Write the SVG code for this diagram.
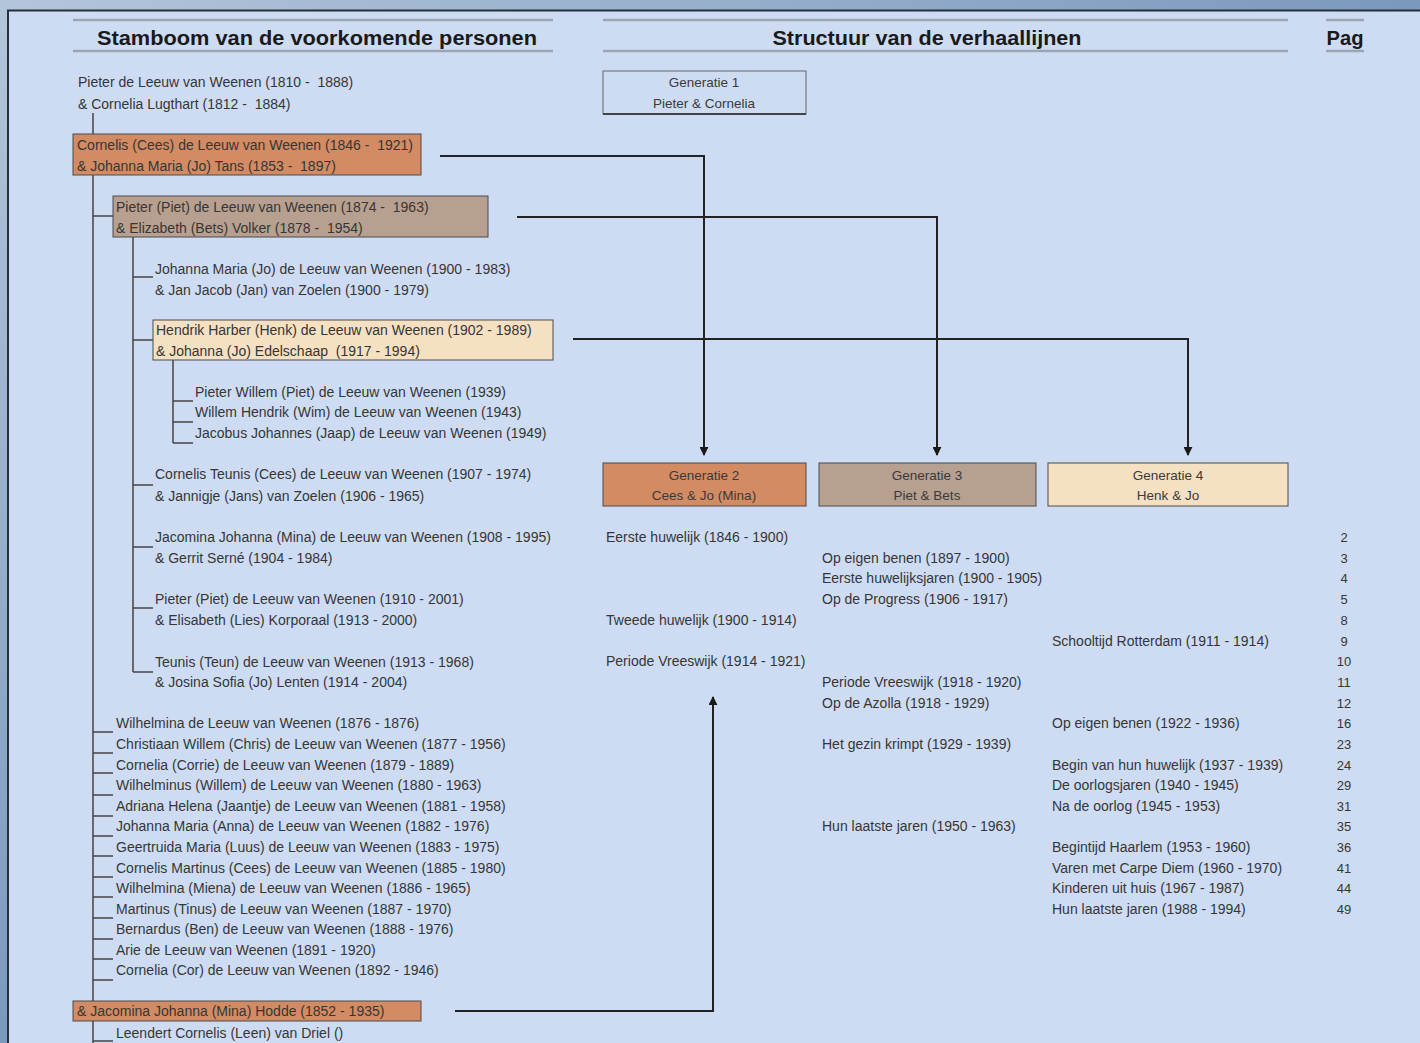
<svg xmlns="http://www.w3.org/2000/svg" width="1420" height="1043" viewBox="0 0 1420 1043">
<defs>
<linearGradient id="water" x1="0" y1="0" x2="1" y2="1">
<stop offset="0" stop-color="#b3c6da"/>
<stop offset="0.5" stop-color="#7b99bd"/>
<stop offset="1" stop-color="#a9bdd4"/>
</linearGradient>
<marker id="arr" viewBox="0 0 10 10" refX="9" refY="5" markerWidth="4.5" markerHeight="4.5" orient="auto" markerUnits="strokeWidth">
<path d="M0,0 L10,5 L0,10 z" fill="#1a1a1a"/>
</marker>
<style>
.t{font-family:"Liberation Sans",Arial,sans-serif;font-size:14px;fill:#363636;white-space:pre}
.s{font-family:"Liberation Sans",Arial,sans-serif;font-size:14px;fill:#363636}
.g{font-family:"Liberation Sans",Arial,sans-serif;font-size:13.5px;fill:#3a3a3a;text-anchor:middle}
.h{font-family:"Liberation Sans",Arial,sans-serif;font-size:20px;font-weight:bold;fill:#1a1a1a;text-anchor:middle}
.pn{font-family:"Liberation Sans",Arial,sans-serif;font-size:13px;fill:#363636;text-anchor:middle}
.hl{stroke:#9aa6b6;stroke-width:2.5}
.tree{stroke:#454545;stroke-width:1.5;fill:none}
.con{stroke:#222;stroke-width:2;fill:none}
.b1{fill:#d38b63;stroke:#4a4a4a;stroke-width:1}
.b2{fill:#b8a090;stroke:#4a4a4a;stroke-width:1}
.b3{fill:#f5e0c1;stroke:#4a4a4a;stroke-width:1}
.gb{fill:#cddcf3;stroke:#666;stroke-width:1}
</style>
</defs>
<rect x="0" y="0" width="1420" height="1043" fill="url(#water)"/>
<rect x="7" y="10" width="1413" height="1033" fill="#cddcf3"/>
<path d="M8,1043 V10.5 H1420" stroke="#26303c" stroke-width="2" fill="none"/>

<g id="headers">
<line class="hl" x1="73" y1="20" x2="553" y2="20"/>
<line class="hl" x1="73" y1="51" x2="553" y2="51"/>
<text class="h" x="317" y="45" textLength="440" lengthAdjust="spacingAndGlyphs">Stamboom van de voorkomende personen</text>
<line class="hl" x1="603" y1="20" x2="1288" y2="20"/>
<line class="hl" x1="603" y1="51" x2="1288" y2="51"/>
<text class="h" x="927" y="45" textLength="309" lengthAdjust="spacingAndGlyphs">Structuur van de verhaallijnen</text>
<line class="hl" x1="1326" y1="20" x2="1364" y2="20"/>
<line class="hl" x1="1326" y1="51" x2="1364" y2="51"/>
<text class="h" x="1345" y="45" textLength="37" lengthAdjust="spacingAndGlyphs">Pag</text>
</g>

<g id="connectors">
<path class="tree" d="M93,113 V1043"/>
<path class="tree" d="M93,216 H113"/>
<path class="tree" d="M93,732 H113 M93,753 H113 M93,773 H113 M93,795 H113 M93,816 H113 M93,836 H113 M93,856 H113 M93,877 H113 M93,897 H113 M93,918 H113 M93,939 H113 M93,959 H113 M93,980 H113 M93,1041 H113"/>
<path class="tree" d="M133,237 V672 M133,277 H153 M133,340 H153 M133,485 H153 M133,547 H153 M133,608 H153 M133,672 H153"/>
<path class="tree" d="M173,360 V443 M173,401 H193 M173,422 H193 M173,443 H193"/>
<path class="con" d="M440,156 H704 V455" marker-end="url(#arr)"/>
<path class="con" d="M517,217 H937 V455" marker-end="url(#arr)"/>
<path class="con" d="M573,339 H1188 V455" marker-end="url(#arr)"/>
<path class="con" d="M455,1011 H713 V697" marker-end="url(#arr)"/>
</g>

<g id="p-pieter-cornelia">
<text class="t" x="78" y="87">Pieter de Leeuw van Weenen (1810 -  1888)</text>
<text class="t" x="78" y="109">&amp; Cornelia Lugthart (1812 -  1884)</text>
</g>
<g id="p-cees-jo">
<rect class="b1" x="73" y="134" width="348" height="41"/>
<text class="t" x="77" y="150">Cornelis (Cees) de Leeuw van Weenen (1846 -  1921)</text>
<text class="t" x="77" y="171">&amp; Johanna Maria (Jo) Tans (1853 -  1897)</text>
</g>
<g id="p-piet-bets">
<rect class="b2" x="113" y="196" width="375" height="41"/>
<text class="t" x="116" y="212">Pieter (Piet) de Leeuw van Weenen (1874 -  1963)</text>
<text class="t" x="116" y="233">&amp; Elizabeth (Bets) Volker (1878 -  1954)</text>
</g>
<g id="p-jo-jan">
<text class="t" x="155" y="274">Johanna Maria (Jo) de Leeuw van Weenen (1900 - 1983)</text>
<text class="t" x="155" y="295">&amp; Jan Jacob (Jan) van Zoelen (1900 - 1979)</text>
</g>
<g id="p-henk-jo">
<rect class="b3" x="153" y="320" width="400" height="40"/>
<text class="t" x="156" y="335">Hendrik Harber (Henk) de Leeuw van Weenen (1902 - 1989)</text>
<text class="t" x="156" y="356">&amp; Johanna (Jo) Edelschaap  (1917 - 1994)</text>
</g>
<g id="p-grandchildren">
<text class="t" x="195" y="397">Pieter Willem (Piet) de Leeuw van Weenen (1939)</text>
<text class="t" x="195" y="417">Willem Hendrik (Wim) de Leeuw van Weenen (1943)</text>
<text class="t" x="195" y="438">Jacobus Johannes (Jaap) de Leeuw van Weenen (1949)</text>
</g>
<g id="p-cees-jans">
<text class="t" x="155" y="479">Cornelis Teunis (Cees) de Leeuw van Weenen (1907 - 1974)</text>
<text class="t" x="155" y="501">&amp; Jannigje (Jans) van Zoelen (1906 - 1965)</text>
</g>
<g id="p-mina-gerrit">
<text class="t" x="155" y="542">Jacomina Johanna (Mina) de Leeuw van Weenen (1908 - 1995)</text>
<text class="t" x="155" y="563">&amp; Gerrit Serné (1904 - 1984)</text>
</g>
<g id="p-piet-lies">
<text class="t" x="155" y="604">Pieter (Piet) de Leeuw van Weenen (1910 - 2001)</text>
<text class="t" x="155" y="625">&amp; Elisabeth (Lies) Korporaal (1913 - 2000)</text>
</g>
<g id="p-teun-jo">
<text class="t" x="155" y="667">Teunis (Teun) de Leeuw van Weenen (1913 - 1968)</text>
<text class="t" x="155" y="687">&amp; Josina Sofia (Jo) Lenten (1914 - 2004)</text>
</g>
<g id="p-children">
<text class="t" x="116" y="728">Wilhelmina de Leeuw van Weenen (1876 - 1876)</text>
<text class="t" x="116" y="749">Christiaan Willem (Chris) de Leeuw van Weenen (1877 - 1956)</text>
<text class="t" x="116" y="770">Cornelia (Corrie) de Leeuw van Weenen (1879 - 1889)</text>
<text class="t" x="116" y="790">Wilhelminus (Willem) de Leeuw van Weenen (1880 - 1963)</text>
<text class="t" x="116" y="811">Adriana Helena (Jaantje) de Leeuw van Weenen (1881 - 1958)</text>
<text class="t" x="116" y="831">Johanna Maria (Anna) de Leeuw van Weenen (1882 - 1976)</text>
<text class="t" x="116" y="852">Geertruida Maria (Luus) de Leeuw van Weenen (1883 - 1975)</text>
<text class="t" x="116" y="873">Cornelis Martinus (Cees) de Leeuw van Weenen (1885 - 1980)</text>
<text class="t" x="116" y="893">Wilhelmina (Miena) de Leeuw van Weenen (1886 - 1965)</text>
<text class="t" x="116" y="914">Martinus (Tinus) de Leeuw van Weenen (1887 - 1970)</text>
<text class="t" x="116" y="934">Bernardus (Ben) de Leeuw van Weenen (1888 - 1976)</text>
<text class="t" x="116" y="955">Arie de Leeuw van Weenen (1891 - 1920)</text>
<text class="t" x="116" y="975">Cornelia (Cor) de Leeuw van Weenen (1892 - 1946)</text>
</g>
<g id="p-mina-hodde">
<rect class="b1" x="73" y="1001" width="348" height="20"/>
<text class="t" x="77" y="1016">&amp; Jacomina Johanna (Mina) Hodde (1852 - 1935)</text>
</g>
<g id="p-leen">
<text class="t" x="116" y="1038">Leendert Cornelis (Leen) van Driel ()</text>
</g>

<g id="gen1">
<rect class="gb" x="603" y="71" width="203" height="43"/>
<line x1="603" y1="114" x2="806" y2="114" stroke="#444" stroke-width="2"/>
<text class="g" x="704" y="87">Generatie 1</text>
<text class="g" x="704" y="108">Pieter &amp; Cornelia</text>
</g>
<g id="gen2">
<rect class="b1" x="603" y="463" width="203" height="43"/>
<text class="g" x="704" y="480">Generatie 2</text>
<text class="g" x="704" y="500">Cees &amp; Jo (Mina)</text>
</g>
<g id="gen3">
<rect class="b2" x="819" y="463" width="217" height="43"/>
<text class="g" x="927" y="480">Generatie 3</text>
<text class="g" x="927" y="500">Piet &amp; Bets</text>
</g>
<g id="gen4">
<rect class="b3" x="1048" y="463" width="240" height="43"/>
<text class="g" x="1168" y="480">Generatie 4</text>
<text class="g" x="1168" y="500">Henk &amp; Jo</text>
</g>

<g id="story-gen2">
<text class="s" x="606" y="542">Eerste huwelijk (1846 - 1900)</text>
<text class="s" x="606" y="625">Tweede huwelijk (1900 - 1914)</text>
<text class="s" x="606" y="666">Periode Vreeswijk (1914 - 1921)</text>
</g>
<g id="story-gen3">
<text class="s" x="822" y="563">Op eigen benen (1897 - 1900)</text>
<text class="s" x="822" y="583">Eerste huwelijksjaren (1900 - 1905)</text>
<text class="s" x="822" y="604">Op de Progress (1906 - 1917)</text>
<text class="s" x="822" y="687">Periode Vreeswijk (1918 - 1920)</text>
<text class="s" x="822" y="708">Op de Azolla (1918 - 1929)</text>
<text class="s" x="822" y="749">Het gezin krimpt (1929 - 1939)</text>
<text class="s" x="822" y="831">Hun laatste jaren (1950 - 1963)</text>
</g>
<g id="story-gen4">
<text class="s" x="1052" y="646">Schooltijd Rotterdam (1911 - 1914)</text>
<text class="s" x="1052" y="728">Op eigen benen (1922 - 1936)</text>
<text class="s" x="1052" y="770">Begin van hun huwelijk (1937 - 1939)</text>
<text class="s" x="1052" y="790">De oorlogsjaren (1940 - 1945)</text>
<text class="s" x="1052" y="811">Na de oorlog (1945 - 1953)</text>
<text class="s" x="1052" y="852">Begintijd Haarlem (1953 - 1960)</text>
<text class="s" x="1052" y="873">Varen met Carpe Diem (1960 - 1970)</text>
<text class="s" x="1052" y="893">Kinderen uit huis (1967 - 1987)</text>
<text class="s" x="1052" y="914">Hun laatste jaren (1988 - 1994)</text>
</g>
<g id="pages">
<text class="pn" x="1344" y="542">2</text>
<text class="pn" x="1344" y="563">3</text>
<text class="pn" x="1344" y="583">4</text>
<text class="pn" x="1344" y="604">5</text>
<text class="pn" x="1344" y="625">8</text>
<text class="pn" x="1344" y="646">9</text>
<text class="pn" x="1344" y="666">10</text>
<text class="pn" x="1344" y="687">11</text>
<text class="pn" x="1344" y="708">12</text>
<text class="pn" x="1344" y="728">16</text>
<text class="pn" x="1344" y="749">23</text>
<text class="pn" x="1344" y="770">24</text>
<text class="pn" x="1344" y="790">29</text>
<text class="pn" x="1344" y="811">31</text>
<text class="pn" x="1344" y="831">35</text>
<text class="pn" x="1344" y="852">36</text>
<text class="pn" x="1344" y="873">41</text>
<text class="pn" x="1344" y="893">44</text>
<text class="pn" x="1344" y="914">49</text>
</g>
</svg>
